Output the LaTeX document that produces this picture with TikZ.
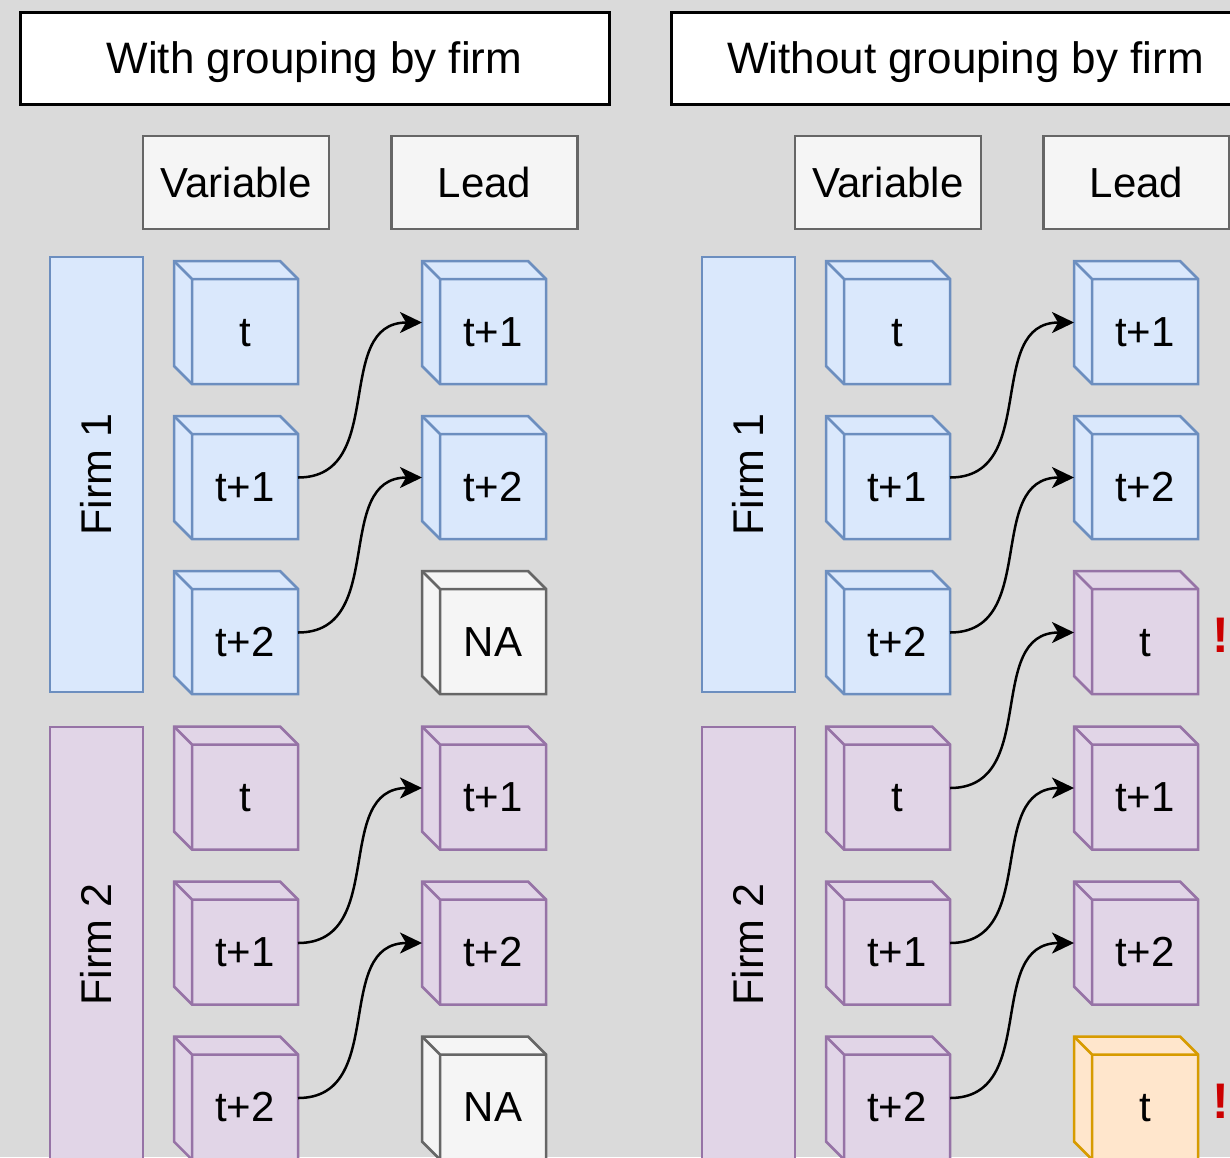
\documentclass[tikz,border=0pt]{standalone}
\usepackage{fontspec}
\setmainfont{Liberation Sans}
\usetikzlibrary{arrows.meta}
\definecolor{bg}{HTML}{DADADA}
\definecolor{bluefill}{HTML}{DAE8FC}
\definecolor{bluedraw}{HTML}{6C8EBF}
\definecolor{purpfill}{HTML}{E1D5E7}
\definecolor{purpdraw}{HTML}{9673A6}
\definecolor{orfill}{HTML}{FFE6CC}
\definecolor{ordraw}{HTML}{D79B00}
\definecolor{grayfill}{HTML}{F5F5F5}
\definecolor{graydraw}{HTML}{666666}
\definecolor{alertred}{HTML}{CC0000}
\tikzset{
  lbl/.style={font=\fontsize{42}{50}\selectfont, text height=29.4pt, text depth=0pt, inner sep=0pt, text=black},
  titlebox/.style={draw=black, fill=white, line width=3pt, minimum width=589pt, minimum height=92pt, font=\fontsize{44}{52}\selectfont, text height=30.8pt, text depth=0pt, inner sep=0pt},
  headbox/.style={lbl, draw=graydraw, fill=grayfill, line width=2.5pt, minimum width=186pt, minimum height=93pt},
  firmbox/.style={line width=2.5pt, minimum width=93pt, minimum height=435pt, inner sep=0pt},
  firmlbl/.style={lbl, font=\fontsize{43}{50}\selectfont, text height=30.1pt, rotate=90},
  link/.style={line width=2.5pt, -{Stealth[length=22pt,width=21pt,inset=6pt]}},
  bang/.style={text=alertred, font=\bfseries\fontsize{50}{60}\selectfont, text height=35.8pt, text depth=0pt, inner sep=0pt},
}
\newcommand\cubenode[6]{%
  \node[minimum width=124pt,minimum height=123pt,inner sep=0pt,outer sep=0pt] (#1) at (#2,#3) {};
  \filldraw[fill=#4,draw=#5,line width=2.5pt] (#1.north west) -- ++(106,0) -- ++(18,18) -- (#1.south east) -- ++(-106,0) -- ++(-18,-18) -- cycle;
  \draw[draw=#5,line width=2.5pt] (#1.north west) -- ++(18,18) coordinate (#1-f) -- ++(106,0) (#1-f) -- ++(0,105);
  \node[lbl] (#1-t) at ([shift={(9,9)}]#1.center) {#6};
}
\begin{document}
\begin{tikzpicture}[x=1pt,y=-1pt]
\useasboundingbox (0,0) rectangle (1230,1157);
\clip (0,0) rectangle (1230,1157);
\fill[bg] (0,0) rectangle (1230,1157);

% titles
\node[titlebox] (tL) at (314.5,58) {With grouping by firm};
\node[titlebox] (tR) at (965.5,58) {Without grouping by firm};

% headers
\node[headbox] (hvL) at (236,182.5) {Variable};
\node[headbox] (hlL) at (484.5,182.5) {Lead};
\node[headbox] (hvR) at (888,182.5) {Variable};
\node[headbox] (hlR) at (1136.5,182.5) {Lead};

% firm boxes
\node[firmbox, draw=bluedraw, fill=bluefill] (f1L) at (96.5,474.5) {};
\node[firmlbl] (f1Lt) at (f1L.center) {Firm 1};
\node[firmbox, draw=purpdraw, fill=purpfill] (f2L) at (96.5,944.5) {};
\node[firmlbl] (f2Lt) at (f2L.center) {Firm 2};
\node[firmbox, draw=bluedraw, fill=bluefill] (f1R) at (748.5,474.5) {};
\node[firmlbl] (f1Rt) at (f1R.center) {Firm 1};
\node[firmbox, draw=purpdraw, fill=purpfill] (f2R) at (748.5,944.5) {};
\node[firmlbl] (f2Rt) at (f2R.center) {Firm 2};

% left variable column
\cubenode{vL1}{236}{322.5}{bluefill}{bluedraw}{t}
\cubenode{vL2}{236}{477.5}{bluefill}{bluedraw}{t+1}
\cubenode{vL3}{236}{632.5}{bluefill}{bluedraw}{t+2}
\cubenode{vL4}{236}{788}{purpfill}{purpdraw}{t}
\cubenode{vL5}{236}{943}{purpfill}{purpdraw}{t+1}
\cubenode{vL6}{236}{1098}{purpfill}{purpdraw}{t+2}
% left lead column
\cubenode{lL1}{484}{322.5}{bluefill}{bluedraw}{t+1}
\cubenode{lL2}{484}{477.5}{bluefill}{bluedraw}{t+2}
\cubenode{lL3}{484}{632.5}{grayfill}{graydraw}{NA}
\cubenode{lL4}{484}{788}{purpfill}{purpdraw}{t+1}
\cubenode{lL5}{484}{943}{purpfill}{purpdraw}{t+2}
\cubenode{lL6}{484}{1098}{grayfill}{graydraw}{NA}
% right variable column
\cubenode{vR1}{888}{322.5}{bluefill}{bluedraw}{t}
\cubenode{vR2}{888}{477.5}{bluefill}{bluedraw}{t+1}
\cubenode{vR3}{888}{632.5}{bluefill}{bluedraw}{t+2}
\cubenode{vR4}{888}{788}{purpfill}{purpdraw}{t}
\cubenode{vR5}{888}{943}{purpfill}{purpdraw}{t+1}
\cubenode{vR6}{888}{1098}{purpfill}{purpdraw}{t+2}
% right lead column
\cubenode{lR1}{1136}{322.5}{bluefill}{bluedraw}{t+1}
\cubenode{lR2}{1136}{477.5}{bluefill}{bluedraw}{t+2}
\cubenode{lR3}{1136}{632.5}{purpfill}{purpdraw}{t}
\cubenode{lR4}{1136}{788}{purpfill}{purpdraw}{t+1}
\cubenode{lR5}{1136}{943}{purpfill}{purpdraw}{t+2}
\cubenode{lR6}{1136}{1098}{orfill}{ordraw}{t}

% connectors
\draw[link] (vL2.east) .. controls +(90,0) and +(-90,0) .. (lL1.west);
\draw[link] (vL3.east) .. controls +(90,0) and +(-90,0) .. (lL2.west);
\draw[link] (vL5.east) .. controls +(90,0) and +(-90,0) .. (lL4.west);
\draw[link] (vL6.east) .. controls +(90,0) and +(-90,0) .. (lL5.west);
\draw[link] (vR2.east) .. controls +(90,0) and +(-90,0) .. (lR1.west);
\draw[link] (vR3.east) .. controls +(90,0) and +(-90,0) .. (lR2.west);
\draw[link] (vR4.east) .. controls +(90,0) and +(-90,0) .. (lR3.west);
\draw[link] (vR5.east) .. controls +(90,0) and +(-90,0) .. (lR4.west);
\draw[link] (vR6.east) .. controls +(90,0) and +(-90,0) .. (lR5.west);

% warnings
\node[bang] (b1) at (1221,634.5) {!};
\node[bang] (b2) at (1221,1100.5) {!};
\end{tikzpicture}
\end{document}
